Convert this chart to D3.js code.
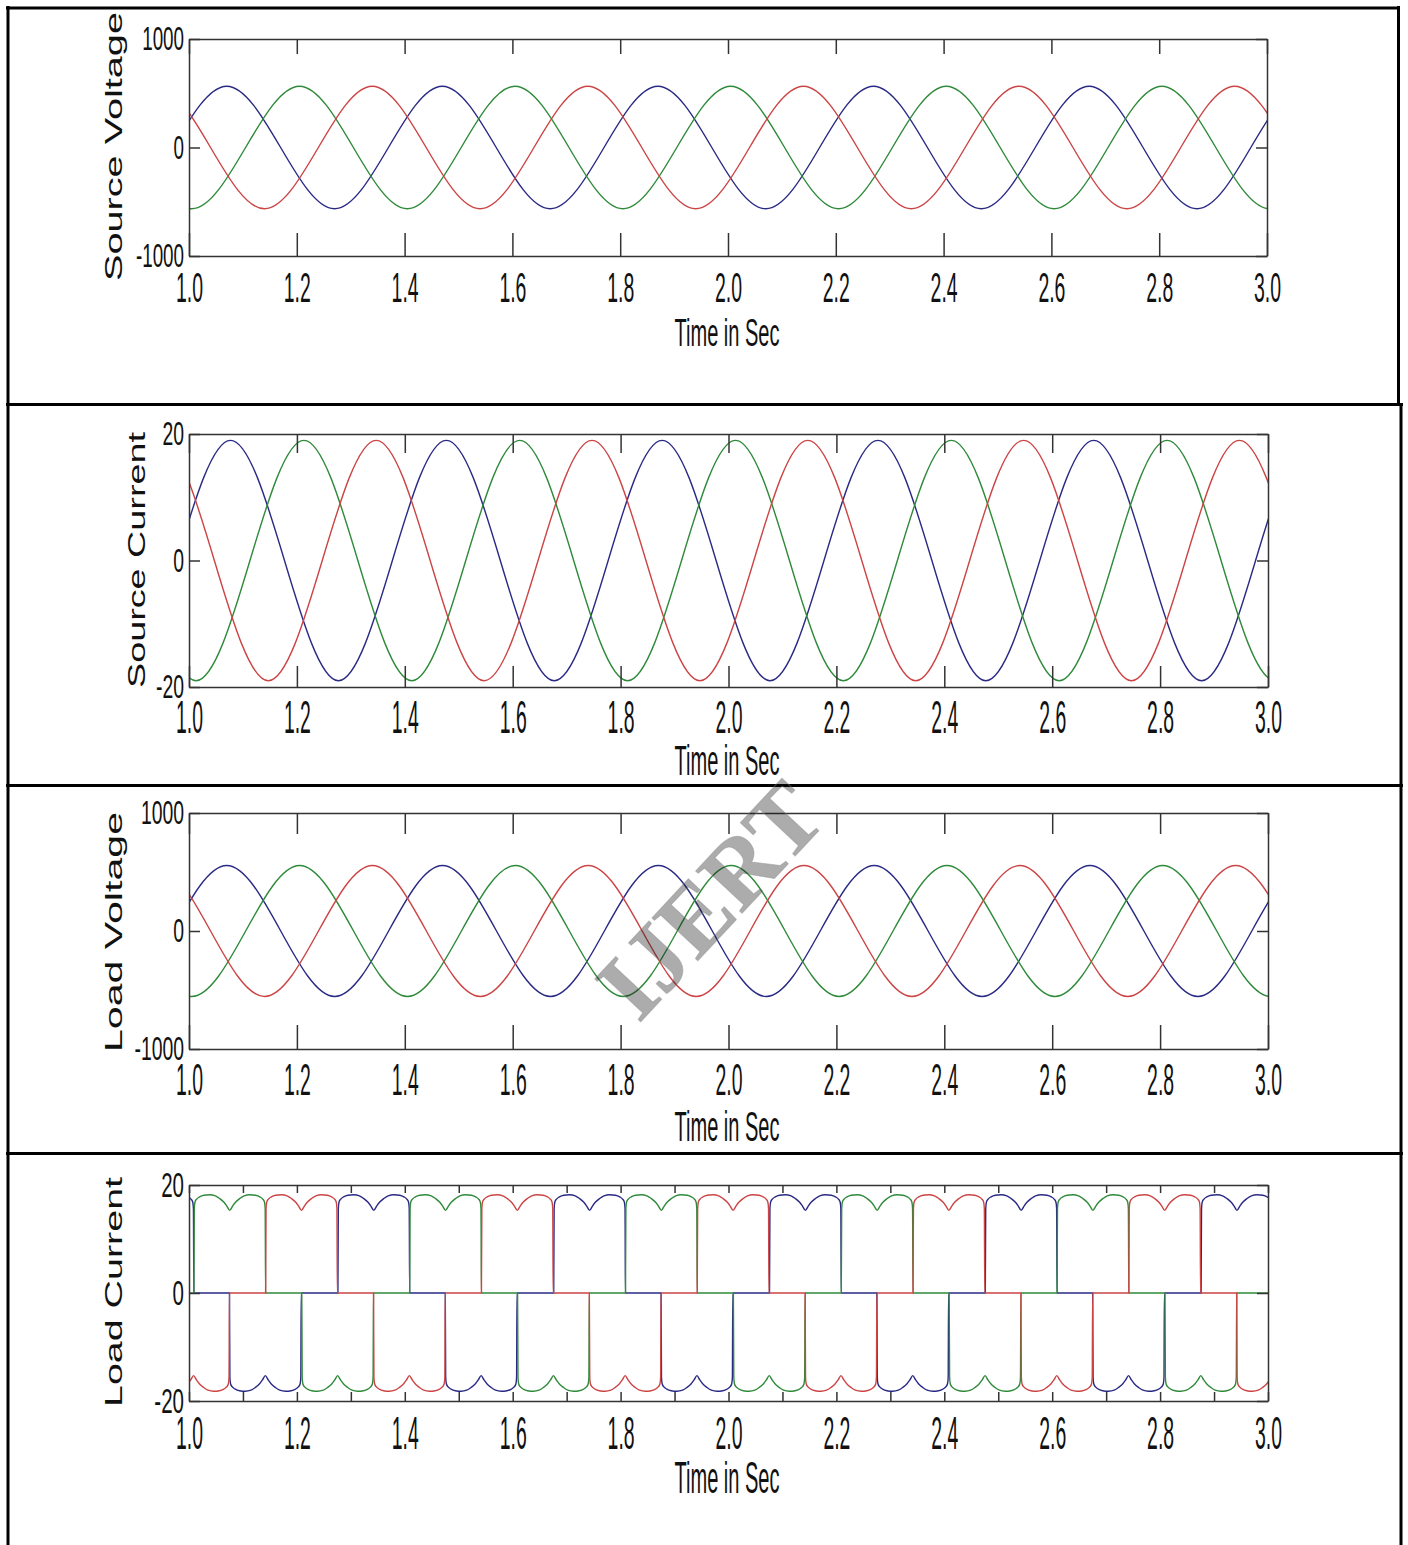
<!DOCTYPE html>
<html>
<head>
<meta charset="utf-8">
<script src="https://cdn.jsdelivr.net/npm/d3@7"></script>
<style>
  body { margin: 0; background: #fff; overflow: hidden; }
  svg text { font-family: "Liberation Sans", Arial, sans-serif; fill: #111; }
</style>
</head>
<body>
<script>
// ---- values ----
const timeTicks = [1.0, 1.2, 1.4, 1.6, 1.8, 2.0, 2.2, 2.4, 2.6, 2.8, 3.0];
const timeLabels = ["1.0", "1.2", "1.4", "1.6", "1.8", "2.0", "2.2", "2.4", "2.6", "2.8", "3.0"];
const fineTimeTicks = [1.0, 1.1, 1.2, 1.3, 1.4, 1.5, 1.6, 1.7, 1.8, 1.9, 2.0,
                       2.1, 2.2, 2.3, 2.4, 2.5, 2.6, 2.7, 2.8, 2.9, 3.0];
const voltageTicks = [-1000, 0, 1000];
const currentTicks = [-20, 0, 20];

// sine panels: [time, value] at each peak / trough of a phase
const sourceVoltageBlue = [[0.67, 565], [0.87, -565], [1.07, 565], [1.27, -565], [1.47, 565], [1.67, -565], [1.87, 565],
  [2.07, -565], [2.27, 565], [2.47, -565], [2.67, 565], [2.87, -565], [3.07, 565], [3.27, -565]];
const sourceVoltageGreen = [[0.605, -565], [0.805, 565], [1.005, -565], [1.205, 565], [1.405, -565], [1.605, 565], [1.805, -565],
  [2.005, 565], [2.205, -565], [2.405, 565], [2.605, -565], [2.805, 565], [3.005, -565], [3.205, 565]];
const sourceVoltageRed = [[0.74, -565], [0.94, 565], [1.14, -565], [1.34, 565], [1.54, -565], [1.74, 565], [1.94, -565],
  [2.14, 565], [2.34, -565], [2.54, 565], [2.74, -565], [2.94, 565], [3.14, -565], [3.34, 565]];

const sourceCurrentBlue = [[0.677, 19], [0.877, -19], [1.077, 19], [1.277, -19], [1.477, 19], [1.677, -19], [1.877, 19],
  [2.077, -19], [2.277, 19], [2.477, -19], [2.677, 19], [2.877, -19], [3.077, 19], [3.277, -19]];
const sourceCurrentGreen = [[0.613, -19], [0.813, 19], [1.013, -19], [1.213, 19], [1.413, -19], [1.613, 19], [1.813, -19],
  [2.013, 19], [2.213, -19], [2.413, 19], [2.613, -19], [2.813, 19], [3.013, -19], [3.213, 19]];
const sourceCurrentRed = [[0.747, -19], [0.947, 19], [1.147, -19], [1.347, 19], [1.547, -19], [1.747, 19], [1.947, -19],
  [2.147, 19], [2.347, -19], [2.547, 19], [2.747, -19], [2.947, 19], [3.147, -19], [3.347, 19]];

const loadVoltageBlue = [[0.67, 555], [0.87, -555], [1.07, 555], [1.27, -555], [1.47, 555], [1.67, -555], [1.87, 555],
  [2.07, -555], [2.27, 555], [2.47, -555], [2.67, 555], [2.87, -555], [3.07, 555], [3.27, -555]];
const loadVoltageGreen = [[0.605, -555], [0.805, 555], [1.005, -555], [1.205, 555], [1.405, -555], [1.605, 555], [1.805, -555],
  [2.005, 555], [2.205, -555], [2.405, 555], [2.605, -555], [2.805, 555], [3.005, -555], [3.205, 555]];
const loadVoltageRed = [[0.74, -555], [0.94, 555], [1.14, -555], [1.34, 555], [1.54, -555], [1.74, 555], [1.94, -555],
  [2.14, 555], [2.34, -555], [2.54, 555], [2.74, -555], [2.94, 555], [3.14, -555], [3.34, 555]];

// load current: conduction blocks [start time, +1 / -1], all the same length
const loadBlockLength = 0.133;
const loadCurrentBlue = [[0.876, 1], [1.075, -1], [1.276, 1], [1.475, -1], [1.676, 1], [1.875, -1],
  [2.076, 1], [2.275, -1], [2.476, 1], [2.675, -1], [2.876, 1], [3.075, -1]];
const loadCurrentGreen = [[0.809, -1], [1.009, 1], [1.209, -1], [1.409, 1], [1.609, -1], [1.809, 1],
  [2.009, -1], [2.209, 1], [2.409, -1], [2.609, 1], [2.809, -1], [3.009, 1]];
const loadCurrentRed = [[0.742, 1], [0.942, -1], [1.142, 1], [1.342, -1], [1.542, 1], [1.742, -1],
  [1.942, 1], [2.142, -1], [2.342, 1], [2.542, -1], [2.742, 1], [2.942, -1]];
// one block's shape: [fraction of block, amps]
const loadPulseShape = [[0, 0], [0.006, 15.6], [0.015, 16.8], [0.04, 17.4], [0.08, 17.8], [0.14, 18.1], [0.22, 18.2],
  [0.3, 18.0], [0.36, 17.5], [0.42, 16.8], [0.46, 16.1], [0.5, 15.3], [0.54, 16.1], [0.58, 16.8], [0.64, 17.5],
  [0.7, 18.0], [0.78, 18.2], [0.86, 18.1], [0.92, 17.8], [0.96, 17.4], [0.985, 16.8], [0.994, 15.6], [1, 0]];

const phaseColors = ["#2a2a85", "#2f8a3a", "#cc4444"];

function pulses(blocks) {
  const pts = [];
  blocks.forEach(([start, sign]) => {
    loadPulseShape.forEach(([f, v]) => pts.push([start + f * loadBlockLength, sign * v]));
  });
  return pts;
}

function labelFor(t) {
  const k = timeTicks.findIndex(v => Math.abs(v - t) < 1e-6);
  return k >= 0 ? timeLabels[k] : "";
}

const svg = d3.select("body").append("svg")
  .attr("width", 1408)
  .attr("height", 1545);

const plotLeft = 189;

const panels = [
  { title: "Source Voltage", yDomain: [-1000, 1000], yTicks: voltageTicks, xTicks: timeTicks,
    series: [sourceVoltageBlue, sourceVoltageGreen, sourceVoltageRed],
    top: 39, bottom: 256, right: 1267, tickTop: 15, tickBottom: 23, yLabelSize: 33,
    labelPad: 16, labelSize: 42, timeBase: 346, timeSize: 39,
    yTitleX: 122, yTitleY: 146.5, yTitleLen: 269 },
  { title: "Source Current", yDomain: [-20, 20], yTicks: currentTicks, xTicks: timeTicks,
    series: [sourceCurrentBlue, sourceCurrentGreen, sourceCurrentRed],
    top: 434, bottom: 687, right: 1268, tickTop: 19, tickBottom: 21, yLabelSize: 34,
    labelPad: 13, labelSize: 46, timeBase: 775, timeSize: 42,
    yTitleX: 145, yTitleY: 560, yTitleLen: 256 },
  { title: "Load Voltage", yDomain: [-1000, 1000], yTicks: voltageTicks, xTicks: timeTicks,
    series: [loadVoltageBlue, loadVoltageGreen, loadVoltageRed],
    top: 813, bottom: 1049, right: 1268, tickTop: 21, tickBottom: 24, yLabelSize: 34,
    labelPad: 14, labelSize: 45, timeBase: 1141, timeSize: 42,
    yTitleX: 122, yTitleY: 932, yTitleLen: 240 },
  { title: "Load Current", yDomain: [-20, 20], yTicks: currentTicks, xTicks: fineTimeTicks,
    series: [pulses(loadCurrentBlue), pulses(loadCurrentGreen), pulses(loadCurrentRed)],
    top: 1185, bottom: 1401, right: 1268, tickTop: 8, tickBottom: 9, yLabelSize: 36,
    labelPad: 15, labelSize: 47, timeBase: 1493, timeSize: 45,
    yTitleX: 122, yTitleY: 1292, yTitleLen: 230 }
];

const defs = svg.append("defs");

panels.forEach((p, i) => {
  const x = d3.scaleLinear().domain([1, 3]).range([plotLeft, p.right]);
  const y = d3.scaleLinear().domain(p.yDomain).range([p.bottom, p.top]);

  defs.append("clipPath").attr("id", "clip" + i)
    .append("rect")
    .attr("x", plotLeft).attr("y", p.top)
    .attr("width", p.right - plotLeft).attr("height", p.bottom - p.top);

  const line = d3.line()
    .x(d => x(d[0]))
    .y(d => y(d[1]))
    .curve(d3.curveMonotoneX);

  const g = svg.append("g");
  g.append("g").attr("clip-path", `url(#clip${i})`)
    .selectAll("path")
    .data(p.series)
    .enter().append("path")
    .attr("d", d => line(d))
    .attr("fill", "none")
    .attr("stroke", (d, j) => phaseColors[j])
    .attr("stroke-width", 1.4);

  // box and ticks
  const bottomAxis = g.append("g")
    .attr("transform", `translate(0,${p.bottom})`)
    .call(d3.axisBottom(x).tickValues(p.xTicks).tickSizeInner(-p.tickBottom).tickSizeOuter(0)
      .tickPadding(p.labelPad).tickFormat(labelFor));
  bottomAxis.selectAll("text")
    .attr("font-size", p.labelSize)
    .attr("textLength", d => labelFor(d) ? 27 : null)
    .attr("lengthAdjust", "spacingAndGlyphs");

  g.append("g")
    .attr("transform", `translate(0,${p.top})`)
    .call(d3.axisTop(x).tickValues(p.xTicks).tickSizeInner(-p.tickTop).tickSizeOuter(0).tickFormat(""));

  const sx = 0.57;
  const leftAxis = g.append("g")
    .attr("transform", `translate(${plotLeft},0)`)
    .call(d3.axisLeft(y).tickValues(p.yTicks).tickSizeInner(-11).tickSizeOuter(0).tickPadding(5)
      .tickFormat(d => String(d)));
  leftAxis.selectAll("text")
    .attr("font-size", p.yLabelSize)
    .attr("x", -5 / sx)
    .attr("transform", `scale(${sx},1)`);

  g.append("g")
    .attr("transform", `translate(${p.right},0)`)
    .call(d3.axisRight(y).tickValues(p.yTicks).tickSizeInner(-11).tickSizeOuter(0).tickFormat(""));

  g.selectAll(".domain, .tick line")
    .attr("stroke", "#333")
    .attr("stroke-width", 1.5);
  g.selectAll(".tick text").attr("fill", "#111").attr("font-family", null);

  // titles
  g.append("text")
    .attr("transform", `translate(${p.yTitleX},${p.yTitleY}) rotate(-90)`)
    .attr("text-anchor", "middle")
    .attr("font-size", 24)
    .attr("textLength", p.yTitleLen)
    .attr("lengthAdjust", "spacingAndGlyphs")
    .text(p.title);

  g.append("text")
    .attr("x", 727)
    .attr("y", p.timeBase)
    .attr("text-anchor", "middle")
    .attr("font-size", p.timeSize)
    .attr("textLength", 105)
    .attr("lengthAdjust", "spacingAndGlyphs")
    .text("Time in Sec");
});

// table cell borders
const borders = svg.append("g")
  .attr("stroke", "#000")
  .attr("stroke-width", 3)
  .attr("fill", "none");
borders.append("path").attr("d", "M8,6V1545");
borders.append("path").attr("d", "M6,8H1400");
borders.append("path").attr("d", "M1398.5,6V405");
borders.append("path").attr("d", "M1401,403V1545");
borders.append("path").attr("d", "M6,404.5H1403");
borders.append("path").attr("d", "M6,785.5H1403");
borders.append("path").attr("d", "M6,1153.5H1403");

// watermark
svg.append("text")
  .attr("transform", "translate(710,900) rotate(-47)")
  .attr("text-anchor", "middle")
  .attr("dominant-baseline", "central")
  .style("font-family", "'Liberation Serif', 'DejaVu Serif', serif")
  .style("font-weight", "bold")
  .attr("font-size", 96)
  .attr("fill", "#c4c4c4")
  .attr("fill-opacity", 0.35)
  .attr("stroke", "#8c8c8c")
  .attr("stroke-opacity", 0.45)
  .attr("stroke-width", 1)
  .text("IJERT");
</script>
</body>
</html>
